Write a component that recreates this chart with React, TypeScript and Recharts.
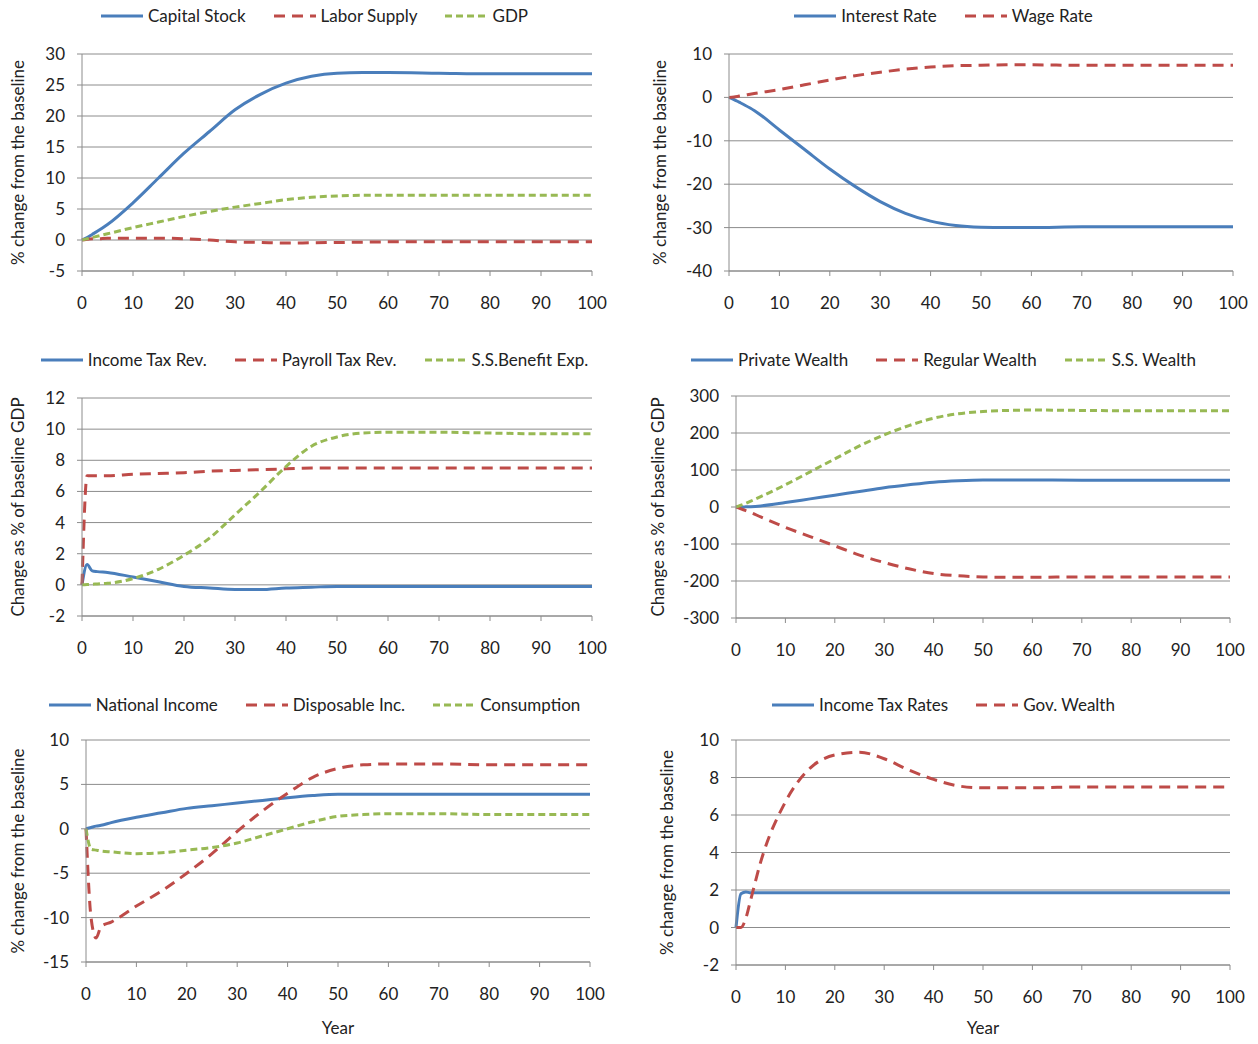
import React from "react";
import { LineChart, Line, XAxis, YAxis, CartesianGrid, Label } from "recharts";

const years = [0, 1, 2, 3, 5, 10, 15, 20, 25, 30, 35, 40, 45, 50, 55, 60, 70, 80, 90, 100];

const capitalStock = [0, 0.4, 0.9, 1.4, 2.5, 6, 10, 14, 17.5, 21, 23.5, 25.3, 26.4, 26.9, 27, 27, 26.9, 26.8, 26.8, 26.8];
const laborSupply = [0, 0.1, 0.2, 0.2, 0.3, 0.3, 0.3, 0.2, 0, -0.3, -0.4, -0.5, -0.45, -0.4, -0.35, -0.3, -0.3, -0.3, -0.3, -0.3];
const gdp = [0, 0.2, 0.4, 0.6, 1, 2, 2.9, 3.8, 4.6, 5.3, 5.9, 6.5, 6.9, 7.1, 7.2, 7.2, 7.2, 7.2, 7.2, 7.2];

const interestRate = [0, -0.5, -1.1, -1.7, -3, -7.5, -12, -16.5, -20.5, -24, -26.7, -28.5, -29.5, -29.9, -30, -30, -29.8, -29.8, -29.8, -29.8];
const wageRate = [0, 0.1, 0.3, 0.5, 0.9, 1.8, 2.9, 4, 5, 5.8, 6.5, 7, 7.3, 7.4, 7.5, 7.5, 7.4, 7.4, 7.4, 7.4];

const incomeTaxRev = [0, 1.3, 0.9, 0.85, 0.8, 0.5, 0.2, -0.1, -0.2, -0.3, -0.3, -0.2, -0.15, -0.1, -0.1, -0.1, -0.1, -0.1, -0.1, -0.1];
const payrollTaxRev = [0, 7, 7, 7, 7, 7.1, 7.15, 7.2, 7.3, 7.35, 7.4, 7.45, 7.5, 7.5, 7.5, 7.5, 7.5, 7.5, 7.5, 7.5];
const ssBenefitExp = [0, 0.02, 0.04, 0.06, 0.1, 0.4, 1, 1.9, 3, 4.5, 6, 7.6, 8.9, 9.5, 9.75, 9.8, 9.8, 9.75, 9.7, 9.7];

const privateWealth = [0, 0, 0.5, 1, 3, 12, 22, 32, 42, 52, 60, 67, 71, 73, 73, 73, 72.5, 72, 72, 72];
const regularWealth = [0, -5, -10, -15, -27, -55, -80, -105, -130, -150, -167, -180, -186, -189, -190, -190, -189, -189, -189, -189];
const ssWealth = [0, 5, 10, 16, 28, 60, 95, 130, 165, 195, 220, 240, 252, 258, 261, 262, 261, 260, 260, 260];

const nationalIncome = [0, 0.15, 0.3, 0.4, 0.7, 1.3, 1.8, 2.3, 2.6, 2.9, 3.2, 3.5, 3.75, 3.9, 3.9, 3.9, 3.9, 3.9, 3.9, 3.9];
const disposableInc = [0, -10, -12.3, -11, -10.5, -8.7, -7, -5, -2.8, -0.3, 2, 4, 5.8, 6.8, 7.2, 7.3, 7.3, 7.2, 7.2, 7.2];
const consumption = [0, -2.3, -2.4, -2.5, -2.6, -2.8, -2.7, -2.4, -2.1, -1.6, -0.8, 0, 0.8, 1.4, 1.6, 1.7, 1.7, 1.6, 1.6, 1.6];

const incomeTaxRates = [0, 1.8, 1.9, 1.85, 1.85, 1.85, 1.85, 1.85, 1.85, 1.85, 1.85, 1.85, 1.85, 1.85, 1.85, 1.85, 1.85, 1.85, 1.85, 1.85];
const govWealth = [0, 0, 0.5, 1.5, 3.5, 6.7, 8.5, 9.2, 9.35, 9, 8.4, 7.9, 7.55, 7.45, 7.45, 7.45, 7.5, 7.5, 7.5, 7.5];

const xTicks = [0, 10, 20, 30, 40, 50, 60, 70, 80, 90, 100];

const BLUE = "#4a7ebb";
const RED = "#be4b48";
const GREEN = "#98b954";
const FONT = "Lato, 'Open Sans', sans-serif";

type Series = { name: string; values: number[]; color: string; dash?: string };

type PanelProps = {
  left: number;
  top: number;
  height: number;
  marginTop: number;
  yWidth: number;
  right: number;
  xHeight: number;
  yTicks: number[];
  yLabel: string;
  yLabelOffset: number;
  series: Series[];
  showYear?: boolean;
};

const LegendIcon = ({ color, dash }: { color: string; dash?: string }) => (
  <svg width={42} height={10} style={{ marginRight: 5 }}>
    <line x1={0} y1={5} x2={42} y2={5} stroke={color} strokeWidth={3} strokeDasharray={dash} />
  </svg>
);

const Panel = (p: PanelProps) => {
  const data = years.map((year, i) => {
    const row: Record<string, number> = { year };
    p.series.forEach((s) => (row[s.name] = s.values[i]));
    return row;
  });
  return (
    <div style={{ position: "absolute", left: p.left, top: p.top, width: 629, height: p.height }}>
      <div
        style={{
          position: "absolute",
          top: 5,
          left: 0,
          width: 629,
          display: "flex",
          justifyContent: "center",
          gap: 28,
          fontFamily: FONT,
          fontSize: 17,
          color: "#222",
        }}
      >
        {p.series.map((s) => (
          <div key={s.name} style={{ display: "flex", alignItems: "center" }}>
            <LegendIcon color={s.color} dash={s.dash} />
            {s.name}
          </div>
        ))}
      </div>
      <LineChart
        width={629}
        height={p.height}
        data={data}
        margin={{ top: p.marginTop, right: p.right, left: 0, bottom: 0 }}
        style={{ position: "absolute", left: 0, top: 0 }}
      >
        <CartesianGrid vertical={false} stroke="#8c8c8c" />
        <XAxis
          dataKey="year"
          type="number"
          domain={[0, 100]}
          ticks={xTicks}
          height={p.xHeight}
          tickSize={5}
          tickMargin={21}
          stroke="#8c8c8c"
          tick={{ fill: "#222", fontSize: 17, fontFamily: FONT }}
        >
          {p.showYear && (
            <Label value="Year" position="insideBottom" offset={10} style={{ fill: "#222", fontSize: 17, fontFamily: FONT }} />
          )}
        </XAxis>
        <YAxis
          width={p.yWidth}
          domain={[p.yTicks[0], p.yTicks[p.yTicks.length - 1]]}
          ticks={p.yTicks}
          interval={0}
          tickSize={5}
          tickMargin={12}
          stroke="#8c8c8c"
          tick={{ fill: "#222", fontSize: 17, fontFamily: FONT }}
        >
          <Label
            value={p.yLabel}
            angle={-90}
            position="insideLeft"
            offset={p.yLabelOffset}
            style={{ textAnchor: "middle", fill: "#222", fontSize: 17, fontFamily: FONT }}
          />
        </YAxis>
        {p.series.map((s) => (
          <Line
            key={s.name}
            type="monotone"
            dataKey={s.name}
            stroke={s.color}
            strokeWidth={3}
            strokeDasharray={s.dash}
            dot={false}
            isAnimationActive={false}
          />
        ))}
      </LineChart>
    </div>
  );
};

const RED_DASH = "11 7";
const GREEN_DASH = "7 4";

const App = () => (
  <div style={{ position: "absolute", left: 0, top: 0, width: 1258, height: 1044, background: "#fff" }}>
    <Panel
      left={0}
      top={0}
      height={320}
      marginTop={54}
      yWidth={82}
      right={37}
      xHeight={49}
      yTicks={[-5, 0, 5, 10, 15, 20, 25, 30]}
      yLabel="% change from the baseline"
      yLabelOffset={18}
      series={[
        { name: "Capital Stock", values: capitalStock, color: BLUE },
        { name: "Labor Supply", values: laborSupply, color: RED, dash: RED_DASH },
        { name: "GDP", values: gdp, color: GREEN, dash: GREEN_DASH },
      ]}
    />
    <Panel
      left={629}
      top={0}
      height={320}
      marginTop={54}
      yWidth={100}
      right={25}
      xHeight={49}
      yTicks={[-40, -30, -20, -10, 0, 10]}
      yLabel="% change from the baseline"
      yLabelOffset={31}
      series={[
        { name: "Interest Rate", values: interestRate, color: BLUE },
        { name: "Wage Rate", values: wageRate, color: RED, dash: RED_DASH },
      ]}
    />
    <Panel
      left={0}
      top={344}
      height={321}
      marginTop={54}
      yWidth={82}
      right={37}
      xHeight={49}
      yTicks={[-2, 0, 2, 4, 6, 8, 10, 12]}
      yLabel="Change as % of baseline GDP"
      yLabelOffset={18}
      series={[
        { name: "Income Tax Rev.", values: incomeTaxRev, color: BLUE },
        { name: "Payroll Tax Rev.", values: payrollTaxRev, color: RED, dash: RED_DASH },
        { name: "S.S.Benefit Exp.", values: ssBenefitExp, color: GREEN, dash: GREEN_DASH },
      ]}
    />
    <Panel
      left={629}
      top={344}
      height={323}
      marginTop={52}
      yWidth={107}
      right={28}
      xHeight={49}
      yTicks={[-300, -200, -100, 0, 100, 200, 300]}
      yLabel="Change as % of baseline GDP"
      yLabelOffset={29}
      series={[
        { name: "Private Wealth", values: privateWealth, color: BLUE },
        { name: "Regular Wealth", values: regularWealth, color: RED, dash: RED_DASH },
        { name: "S.S. Wealth", values: ssWealth, color: GREEN, dash: GREEN_DASH },
      ]}
    />
    <Panel
      left={0}
      top={689}
      height={355}
      marginTop={51}
      yWidth={86}
      right={39}
      xHeight={82}
      yTicks={[-15, -10, -5, 0, 5, 10]}
      yLabel="% change from the baseline"
      yLabelOffset={18}
      showYear
      series={[
        { name: "National Income", values: nationalIncome, color: BLUE },
        { name: "Disposable Inc.", values: disposableInc, color: RED, dash: RED_DASH },
        { name: "Consumption", values: consumption, color: GREEN, dash: GREEN_DASH },
      ]}
    />
    <Panel
      left={629}
      top={689}
      height={355}
      marginTop={51}
      yWidth={107}
      right={28}
      xHeight={79}
      yTicks={[-2, 0, 2, 4, 6, 8, 10]}
      yLabel="% change from the baseline"
      yLabelOffset={38}
      showYear
      series={[
        { name: "Income Tax Rates", values: incomeTaxRates, color: BLUE },
        { name: "Gov. Wealth", values: govWealth, color: RED, dash: RED_DASH },
      ]}
    />
  </div>
);

export default App;
